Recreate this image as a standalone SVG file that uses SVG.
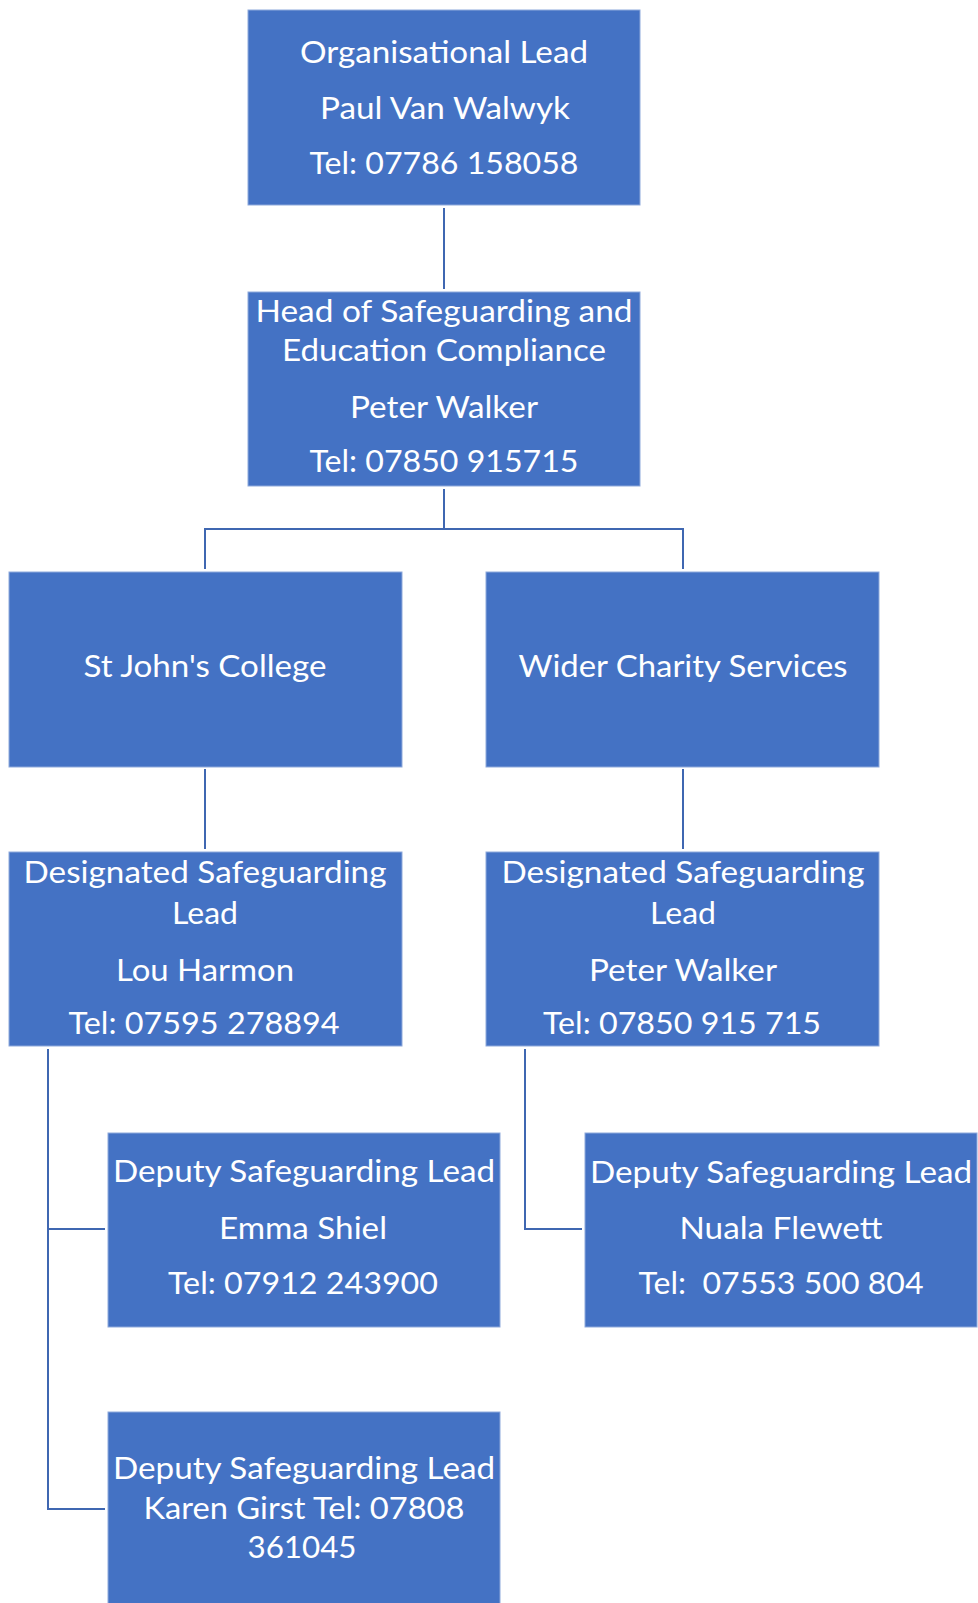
<svg xmlns="http://www.w3.org/2000/svg" width="978" height="1603" viewBox="0 0 978 1603">
<style>
.box{fill:#4472C4;stroke:#8EA9DB;stroke-width:1}
.t{font-family:Lato,"Open Sans","Liberation Sans",sans-serif;font-size:31px;fill:#FFFFFF;text-anchor:middle}
.c{fill:none;stroke:#3F67B1;stroke-width:2}
</style>
<rect width="978" height="1603" fill="#FFFFFF"/>
<g id="connectors">
<path class="c" d="M444,208 V289"/>
<path class="c" d="M444,489 V529 M205,529 H683 M205,528 V569 M683,528 V569"/>
<path class="c" d="M205,769 V849"/>
<path class="c" d="M683,769 V849"/>
<path class="c" d="M48,1049 V1509 H105 M48,1229 H105"/>
<path class="c" d="M525,1049 V1229 H582"/>
</g>
<g id="org-lead">
<rect class="box" x="248" y="10" width="392" height="195"/>
<text class="t" x="444" y="62.7" textLength="288" lengthAdjust="spacingAndGlyphs">Organisational Lead</text>
<text class="t" x="445" y="119" textLength="250" lengthAdjust="spacingAndGlyphs">Paul Van Walwyk</text>
<text class="t" x="444" y="174" textLength="269" lengthAdjust="spacingAndGlyphs">Tel: 07786 158058</text>
</g>
<g id="head">
<rect class="box" x="248" y="292" width="392" height="194"/>
<text class="t" x="444" y="321.7" textLength="377" lengthAdjust="spacingAndGlyphs">Head of Safeguarding and</text>
<text class="t" x="444" y="360.7" textLength="324" lengthAdjust="spacingAndGlyphs">Education Compliance</text>
<text class="t" x="444" y="418.3" textLength="188" lengthAdjust="spacingAndGlyphs">Peter Walker</text>
<text class="t" x="444" y="472.3" textLength="269" lengthAdjust="spacingAndGlyphs">Tel: 07850 915715</text>
</g>
<g id="st-johns">
<rect class="box" x="9" y="572" width="393" height="195"/>
<text class="t" x="205" y="677.3" textLength="243" lengthAdjust="spacingAndGlyphs">St John's College</text>
</g>
<g id="wider-charity">
<rect class="box" x="486" y="572" width="393" height="195"/>
<text class="t" x="683" y="677.3" textLength="329" lengthAdjust="spacingAndGlyphs">Wider Charity Services</text>
</g>
<g id="dsl-left">
<rect class="box" x="9" y="852" width="393" height="194"/>
<text class="t" x="205" y="883.3" textLength="363" lengthAdjust="spacingAndGlyphs">Designated Safeguarding</text>
<text class="t" x="205" y="924" textLength="66" lengthAdjust="spacingAndGlyphs">Lead</text>
<text class="t" x="205" y="980.7" textLength="178" lengthAdjust="spacingAndGlyphs">Lou Harmon</text>
<text class="t" x="204" y="1034" textLength="271" lengthAdjust="spacingAndGlyphs">Tel: 07595 278894</text>
</g>
<g id="dsl-right">
<rect class="box" x="486" y="852" width="393" height="194"/>
<text class="t" x="683" y="883.3" textLength="363" lengthAdjust="spacingAndGlyphs">Designated Safeguarding</text>
<text class="t" x="683" y="924" textLength="66" lengthAdjust="spacingAndGlyphs">Lead</text>
<text class="t" x="683" y="980.7" textLength="188" lengthAdjust="spacingAndGlyphs">Peter Walker</text>
<text class="t" x="682" y="1034" textLength="278" lengthAdjust="spacingAndGlyphs">Tel: 07850 915 715</text>
</g>
<g id="deputy-emma">
<rect class="box" x="108" y="1133" width="392" height="194"/>
<text class="t" x="304" y="1182.3" textLength="382" lengthAdjust="spacingAndGlyphs">Deputy Safeguarding Lead</text>
<text class="t" x="303" y="1239.3" textLength="168" lengthAdjust="spacingAndGlyphs">Emma Shiel</text>
<text class="t" x="303" y="1294" textLength="270" lengthAdjust="spacingAndGlyphs">Tel: 07912 243900</text>
</g>
<g id="deputy-nuala">
<rect class="box" x="585" y="1133" width="392" height="194"/>
<text class="t" x="781" y="1182.7" textLength="382" lengthAdjust="spacingAndGlyphs">Deputy Safeguarding Lead</text>
<text class="t" x="781" y="1239.3" textLength="203" lengthAdjust="spacingAndGlyphs">Nuala Flewett</text>
<text class="t" x="781" y="1294" textLength="285" lengthAdjust="spacingAndGlyphs" xml:space="preserve">Tel:  07553 500 804</text>
</g>
<g id="deputy-karen">
<rect class="box" x="108" y="1412" width="392" height="196"/>
<text class="t" x="304" y="1479.3" textLength="382" lengthAdjust="spacingAndGlyphs">Deputy Safeguarding Lead</text>
<text class="t" x="304" y="1519.3" textLength="321" lengthAdjust="spacingAndGlyphs">Karen Girst Tel: 07808</text>
<text class="t" x="302" y="1558.3" textLength="109" lengthAdjust="spacingAndGlyphs">361045</text>
</g>
</svg>
